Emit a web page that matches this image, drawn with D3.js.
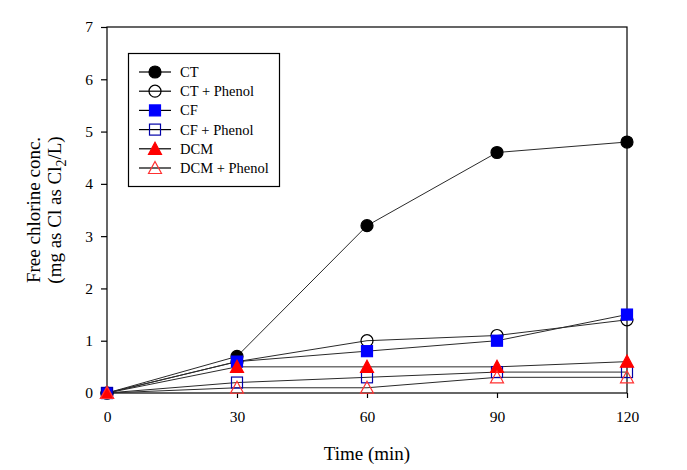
<!DOCTYPE html>
<html>
<head>
<meta charset="utf-8">
<script src="https://cdn.jsdelivr.net/npm/d3@7"></script>
<style>
  html, body { margin: 0; padding: 0; background: #fff; }
  svg { display: block; }
  text { font-family: "Liberation Serif", "Times New Roman", serif; fill: #000; }
</style>
</head>
<body>
<svg id="chart" width="687" height="470"></svg>
<script>
// ---- data ----
const times = [0, 30, 60, 90, 120];
const ct = [0, 0.7, 3.2, 4.6, 4.8];
const ctPhenol = [0, 0.6, 1.0, 1.1, 1.4];
const cf = [0, 0.6, 0.8, 1.0, 1.5];
const cfPhenol = [0, 0.2, 0.3, 0.4, 0.4];
const dcm = [0, 0.5, 0.5, 0.5, 0.6];
const dcmPhenol = [0, 0.1, 0.1, 0.3, 0.3];
const seriesNames = ["CT", "CT + Phenol", "CF", "CF + Phenol", "DCM", "DCM + Phenol"];
const xTicks = [0, 30, 60, 90, 120];
const yTicks = [0, 1, 2, 3, 4, 5, 6, 7];

const seriesValues = [ct, ctPhenol, cf, cfPhenol, dcm, dcmPhenol];
const styles = [
  { shape: "circle", fill: "#000", stroke: "#000" },
  { shape: "circle", fill: "none", stroke: "#000" },
  { shape: "square", fill: "#0000ff", stroke: "#0000ff" },
  { shape: "square", fill: "none", stroke: "#0000a8" },
  { shape: "triangle", fill: "#ff0000", stroke: "#ff0000" },
  { shape: "triangle", fill: "none", stroke: "#ff3030" }
];

const svg = d3.select("#chart");
const pLeft = 107, pRight = 627, pTop = 27, pBottom = 393;
const x = d3.scaleLinear().domain([0, 120]).range([pLeft, pRight]);
const y = d3.scaleLinear().domain([0, 7]).range([pBottom, pTop]);

// frame
svg.append("rect").attr("x", pLeft).attr("y", pTop)
  .attr("width", pRight - pLeft).attr("height", pBottom - pTop)
  .attr("fill", "none").attr("stroke", "#000").attr("stroke-width", 1.2);

// axes
const xAxis = svg.append("g").attr("transform", `translate(0,${pBottom})`)
  .call(d3.axisBottom(x).tickValues(xTicks).tickSize(5).tickPadding(13).tickFormat(d3.format("d")));
const yAxis = svg.append("g").attr("transform", `translate(${pLeft},0)`)
  .call(d3.axisLeft(y).tickValues(yTicks).tickSize(6).tickPadding(8).tickFormat(d3.format("d")));
[xAxis, yAxis].forEach(g => {
  g.select(".domain").remove();
  g.selectAll(".tick line").attr("stroke", "#000").attr("stroke-width", 1.2);
  g.selectAll(".tick text").style("font-family", '"Liberation Serif", serif')
    .style("font-size", "15.5px").attr("fill", "#000");
});

// marker drawing
function marker(g, shape, cx, cy, st, size) {
  const s = size || 1;
  if (shape === "circle") {
    g.append("circle").attr("cx", cx).attr("cy", cy).attr("r", 6 * s)
      .attr("fill", st.fill).attr("stroke", st.stroke).attr("stroke-width", 1.2);
  } else if (shape === "square") {
    const h = 5.5 * s;
    g.append("rect").attr("x", cx - h).attr("y", cy - h).attr("width", 2 * h).attr("height", 2 * h)
      .attr("fill", st.fill).attr("stroke", st.stroke).attr("stroke-width", 1.2);
  } else {
    const h = 6 * s;
    const pts = [[cx, cy - h - 0.5], [cx + h + 0.5, cy + h - 0.5], [cx - h - 0.5, cy + h - 0.5]];
    g.append("polygon").attr("points", pts.map(p => p.join(",")).join(" "))
      .attr("fill", st.fill).attr("stroke", st.stroke).attr("stroke-width", 1.2);
  }
}

const line = d3.line().x((d, i) => x(times[i])).y(d => y(d));
const plot = svg.append("g");
seriesValues.forEach((vals, si) => {
  plot.append("path").attr("d", line(vals)).attr("fill", "none")
    .attr("stroke", "#2a2a2a").attr("stroke-width", 1);
});
seriesValues.forEach((vals, si) => {
  vals.forEach((v, i) => marker(plot, styles[si].shape, x(times[i]), y(v), styles[si]));
});

// legend
const lg = svg.append("g");
lg.append("rect").attr("x", 128.5).attr("y", 53.5).attr("width", 151).attr("height", 133)
  .attr("fill", "#fff").attr("stroke", "#000").attr("stroke-width", 1.2);
seriesNames.forEach((name, i) => {
  const cy = 72 + i * 19.2;
  lg.append("line").attr("x1", 139).attr("x2", 171).attr("y1", cy).attr("y2", cy)
    .attr("stroke", "#000").attr("stroke-width", 1.2);
  marker(lg, styles[i].shape, 155, cy, styles[i]);
  lg.append("text").attr("x", 180).attr("y", cy + 5).style("font-size", "14.5px").text(name);
});

// axis titles
svg.append("text").attr("x", 367).attr("y", 460).attr("text-anchor", "middle")
  .style("font-size", "19px").text("Time (min)");
const yl = svg.append("g").attr("transform", "translate(0,210) rotate(-90)");
yl.append("text").attr("x", 0).attr("y", 40).attr("text-anchor", "middle")
  .style("font-size", "19px").text("Free chlorine conc.");
const t2 = yl.append("text").attr("x", 0).attr("y", 61).attr("text-anchor", "middle")
  .style("font-size", "19px");
t2.append("tspan").text("(mg as Cl as Cl");
t2.append("tspan").attr("dy", 5).style("font-size", "14px").text("2");
t2.append("tspan").attr("dy", -5).text("/L)");
</script>
</body>
</html>
